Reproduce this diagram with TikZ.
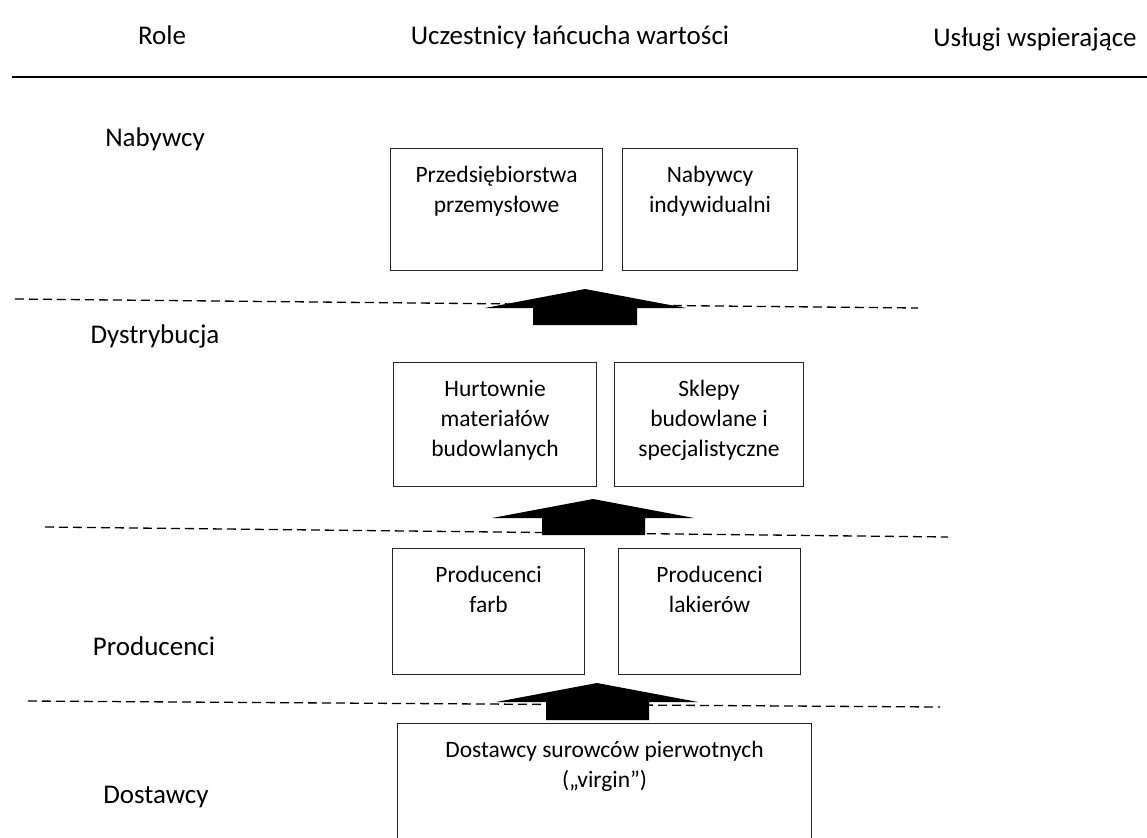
\documentclass[tikz,border=0pt]{standalone}
\usepackage{fontspec}
\setmainfont{Carlito}
\begin{document}
\begin{tikzpicture}[x=1pt,y=-1pt,
  box/.style={draw=black!85, line width=1.1pt, inner sep=0pt, anchor=north west},
  boxtext/.style={anchor=base, align=center, inner sep=0pt, font=\fontsize{23.5}{30}\selectfont},
  role/.style={anchor=base, inner sep=0pt, font=\fontsize{27}{32}\selectfont},
  sep/.style={line width=1.3pt, dash pattern=on 9pt off 5pt},
  blockarrow/.style={fill=black}]
\useasboundingbox (0,0) rectangle (1147,837);
\clip (0,0) rectangle (1147,837);
% header
\node[role] (hRole) at (162,45) {Role};
\node[role] (hUcz) at (570,45) {Uczestnicy łańcucha wartości};
\node[role] (hUsl) at (1035,47) {Usługi wspierające};
\draw[line width=1.5pt] (12,77) -- (1147,77);
% roles
\node[role] (rNab) at (155,147) {Nabywcy};
\node[role] (rDys) at (155,343) {Dystrybucja};
\node[role] (rPro) at (154,655) {Producenci};
\node[role] (rDos) at (156,803) {Dostawcy};
% dashed separators
\coordinate (s1a) at (15,299); \coordinate (s1b) at (918,308);
\coordinate (s2a) at (45,527); \coordinate (s2b) at (948,537);
\coordinate (s3a) at (28,701); \coordinate (s3b) at (940,707);
\draw[sep] (s1a) -- (s1b);
\draw[sep] (s2a) -- (s2b);
\draw[sep] (s3a) -- (s3b);
% boxes
\node[box, minimum width=212pt, minimum height=122pt] (b1) at (390,148) {};
\node[box, minimum width=175pt, minimum height=122pt] (b2) at (622,148) {};
\node[box, minimum width=203pt, minimum height=124pt] (b3) at (393,362) {};
\node[box, minimum width=189pt, minimum height=124pt] (b4) at (614,362) {};
\node[box, minimum width=192pt, minimum height=126pt] (b5) at (392,548) {};
\node[box, minimum width=182pt, minimum height=126pt] (b6) at (618,548) {};
\node[box, minimum width=414pt, minimum height=140pt] (b7) at (397,723) {};
% box texts (anchor=base is the last line's baseline)
\node[boxtext] (t1) at ([yshift=-64pt]b1.north) {Przedsiębiorstwa\\przemysłowe};
\node[boxtext] (t2) at ([yshift=-64pt]b2.north) {Nabywcy\\indywidualni};
\node[boxtext] (t3) at ([yshift=-94pt]b3.north) {Hurtownie\\materiałów\\budowlanych};
\node[boxtext] (t4) at ([yshift=-94pt]b4.north) {Sklepy\\budowlane i\\specjalistyczne};
\node[boxtext] (t5) at ([yshift=-64pt]b5.north) {Producenci\\farb};
\node[boxtext] (t6) at ([yshift=-64pt]b6.north) {Producenci\\lakierów};
\node[boxtext] (t7) at ([yshift=-64pt]b7.north) {Dostawcy surowców pierwotnych\\(„virgin”)};
% block arrows
\fill[blockarrow] (585,289) -- (686,308) -- (637,308) -- (637,325) -- (533,325) -- (533,308) -- (485,308) -- cycle;
\fill[blockarrow] (593,499) -- (694,518) -- (645,518) -- (645,535) -- (542,535) -- (542,518) -- (492,518) -- cycle;
\fill[blockarrow] (597,683) -- (698,702) -- (649,702) -- (649,720) -- (546,720) -- (546,702) -- (496,702) -- cycle;
\end{tikzpicture}
\end{document}
